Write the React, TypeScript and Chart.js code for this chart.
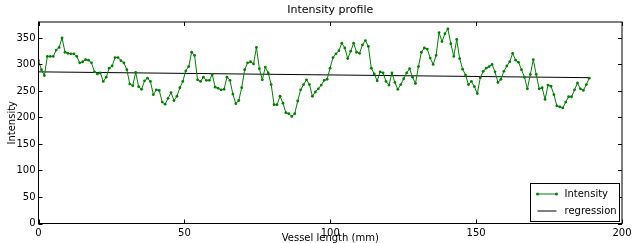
import React, { useEffect, useRef } from "react";
import { Chart, registerables } from "chart.js";

Chart.register(...registerables);

// ---- data ----
const intensity: number[] = [
  307, 290, 279, 315, 315, 315, 327, 332, 350, 323,
  321, 320, 320, 315, 303, 305, 309, 308, 303, 286,
  282, 284, 268, 276, 293, 297, 313, 313, 307, 303,
  290, 263, 260, 285, 258, 253, 269, 274, 268, 243,
  252, 251, 229, 225, 236, 247, 232, 240, 256, 268,
  288, 296, 323, 317, 271, 268, 276, 270, 270, 281,
  257, 255, 252, 253, 276, 270, 244, 226, 232, 256,
  290, 303, 305, 301, 332, 292, 271, 295, 284, 262,
  224, 224, 240, 227, 209, 207, 202, 207, 231, 252,
  262, 271, 262, 240, 248, 254, 261, 270, 272, 293,
  313, 320, 326, 340, 331, 311, 325, 340, 323, 321,
  337, 345, 334, 293, 282, 269, 286, 284, 268, 261,
  284, 266, 253, 262, 273, 284, 292, 276, 264, 296,
  323, 331, 329, 312, 300, 317, 360, 343, 358, 367,
  339, 315, 347, 311, 291, 280, 262, 268, 258, 245,
  275, 287, 293, 296, 300, 286, 266, 272, 287, 297,
  305, 321, 308, 304, 290, 276, 254, 281, 309, 281,
  254, 256, 234, 261, 259, 243, 222, 220, 218, 229,
  239, 239, 252, 265, 254, 251, 262, 274,
];
const sampleSpacingMm = 1.0095;
const regressionValues: number[] = [286, 275]; // at first and last sample
const xTicks: number[] = [0, 50, 100, 150, 200];
const yTicks: number[] = [0, 50, 100, 150, 200, 250, 300, 350];
const xMin = 0;
const xMax = 200;
const yMin = 0;
const yMax = 380;
const titleText = "Intensity profile";
const xLabel = "Vessel length (mm)";
const yLabel = "Intensity";
const seriesNames: string[] = ["Intensity", "regression"];

const FONT = '"DejaVu Sans", "Liberation Sans", sans-serif';
const GREEN = "#008000";

export default function App() {
  const ref = useRef<HTMLCanvasElement | null>(null);

  useEffect(() => {
    document.body.style.margin = "0";
    const canvas = ref.current;
    if (!canvas) return;

    const lastX = (intensity.length - 1) * sampleSpacingMm;

    const decor = {
      id: "decor",
      afterDraw(chart: any) {
        const { ctx, chartArea: a, scales } = chart;
        ctx.save();
        // frame
        ctx.strokeStyle = "#000";
        ctx.lineWidth = 1;
        ctx.strokeRect(a.left, a.top, a.right - a.left, a.bottom - a.top);
        // inward ticks on all sides
        const tl = 4;
        ctx.beginPath();
        for (const t of xTicks) {
          const px = Math.round(scales.x.getPixelForValue(t)) + 0.5;
          ctx.moveTo(px, a.top);
          ctx.lineTo(px, a.top + tl);
          ctx.moveTo(px, a.bottom);
          ctx.lineTo(px, a.bottom - tl);
        }
        for (const t of yTicks) {
          const py = Math.round(scales.y.getPixelForValue(t)) + 0.5;
          ctx.moveTo(a.left, py);
          ctx.lineTo(a.left + tl, py);
          ctx.moveTo(a.right, py);
          ctx.lineTo(a.right - tl, py);
        }
        ctx.stroke();

        // title and axis labels
        ctx.fillStyle = "#000";
        ctx.textAlign = "center";
        ctx.textBaseline = "middle";
        const cx = (a.left + a.right) / 2;
        ctx.font = `11px ${FONT}`;
        ctx.fillText(titleText, cx, 10);
        ctx.font = `10px ${FONT}`;
        ctx.fillText(xLabel, cx, 238.5);
        ctx.save();
        ctx.translate(12, (a.top + a.bottom) / 2);
        ctx.rotate(-Math.PI / 2);
        ctx.fillText(yLabel, 0, 0);
        ctx.restore();

        // legend (lower right, inside axes)
        const w = 89;
        const h = 38;
        const x0 = Math.round(a.right - 3 - w) + 0.5;
        const y0 = Math.round(a.bottom - 3 - h) + 0.5;
        ctx.fillStyle = "#fff";
        ctx.fillRect(x0, y0, w, h);
        ctx.strokeStyle = "#000";
        ctx.strokeRect(x0, y0, w, h);
        const rows = [y0 + 10.5, y0 + 27.5];
        const lx0 = x0 + 7;
        const lx1 = x0 + 26;
        // intensity row
        ctx.strokeStyle = GREEN;
        ctx.beginPath();
        ctx.moveTo(lx0, rows[0]);
        ctx.lineTo(lx1, rows[0]);
        ctx.stroke();
        ctx.fillStyle = GREEN;
        for (const px of [lx0, lx1]) {
          ctx.beginPath();
          ctx.arc(px, rows[0], 1.5, 0, Math.PI * 2);
          ctx.fill();
        }
        // regression row
        ctx.strokeStyle = "#000";
        ctx.beginPath();
        ctx.moveTo(lx0, rows[1]);
        ctx.lineTo(lx1, rows[1]);
        ctx.stroke();
        ctx.fillStyle = "#000";
        ctx.textAlign = "left";
        ctx.font = `10px ${FONT}`;
        ctx.fillText(seriesNames[0], x0 + 34, rows[0]);
        ctx.fillText(seriesNames[1], x0 + 34, rows[1]);
        ctx.restore();
      },
    };

    const chart = new Chart(canvas, {
      type: "line",
      data: {
        datasets: [
          {
            label: seriesNames[0],
            data: intensity.map((v, i) => ({ x: i * sampleSpacingMm, y: v })),
            borderColor: GREEN,
            backgroundColor: GREEN,
            borderWidth: 1,
            pointRadius: 1.4,
            pointBorderWidth: 0,
            pointBackgroundColor: GREEN,
            tension: 0,
          },
          {
            label: seriesNames[1],
            data: [
              { x: 0, y: regressionValues[0] },
              { x: lastX, y: regressionValues[1] },
            ],
            borderColor: "#000",
            borderWidth: 1,
            pointRadius: 0,
            tension: 0,
          },
        ],
      },
      options: {
        responsive: false,
        animation: false,
        devicePixelRatio: 1,
        layout: { padding: { top: 22, right: 16, left: 0, bottom: 0 } },
        plugins: {
          legend: { display: false },
          title: { display: false },
          tooltip: { enabled: false },
        },
        scales: {
          x: {
            type: "linear",
            min: xMin,
            max: xMax,
            grid: { display: false, drawTicks: false },
            border: { display: false },
            ticks: {
              stepSize: 50,
              padding: 4,
              color: "#000",
              font: { family: FONT, size: 10 },
              maxRotation: 0,
            },
            afterBuildTicks: (s: any) => {
              s.ticks = xTicks.map((v) => ({ value: v }));
            },
            afterFit: (s: any) => {
              s.height = 19.5;
            },
          },
          y: {
            type: "linear",
            min: yMin,
            max: yMax,
            grid: { display: false, drawTicks: false },
            border: { display: false },
            ticks: {
              stepSize: 50,
              padding: 3,
              color: "#000",
              font: { family: FONT, size: 10 },
            },
            afterBuildTicks: (s: any) => {
              s.ticks = yTicks.map((v) => ({ value: v }));
            },
            afterFit: (s: any) => {
              s.width = 38.5;
            },
          },
        },
      },
      plugins: [decor],
    });

    return () => chart.destroy();
  }, []);

  return (
    <canvas
      ref={ref}
      width={638}
      height={243}
      style={{ display: "block", width: 638, height: 243 }}
    />
  );
}
